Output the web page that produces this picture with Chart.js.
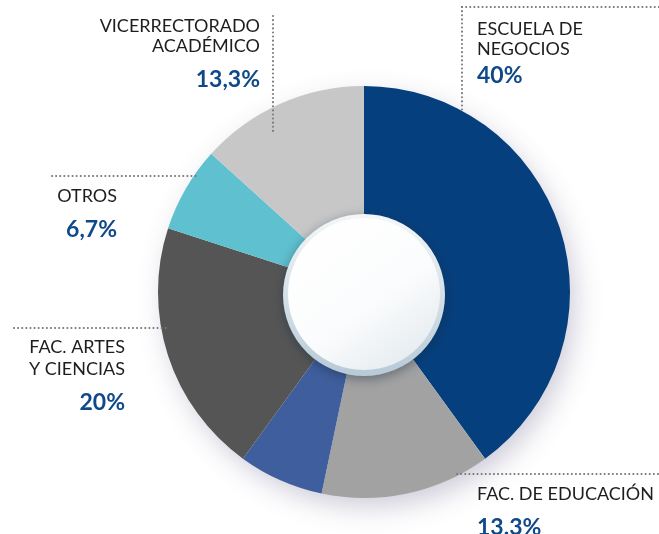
<!DOCTYPE html>
<html>
<head>
<meta charset="utf-8">
<script src="https://cdn.jsdelivr.net/npm/chart.js@4.4.1/dist/chart.umd.min.js"></script>
<style>
  html, body { margin: 0; padding: 0; background: #fff; }
  #wrap { width: 659px; height: 534px; position: relative; }
</style>
</head>
<body>
<div id="wrap"><canvas id="chart" width="659" height="534"></canvas></div>
<script>
// segments clockwise from 12 o'clock
const categories = ['ESCUELA DE NEGOCIOS', 'FAC. DE EDUCACIÓN', '', 'FAC. ARTES Y CIENCIAS', 'OTROS', 'VICERRECTORADO ACADÉMICO'];
const values = [40, 13.3, 6.7, 20, 6.7, 13.3];
const valueLabels = ['40%', '13.3%', '', '20%', '6,7%', '13,3%'];
const nameLines = [['ESCUELA DE', 'NEGOCIOS'], ['FAC. DE EDUCACIÓN'], [], ['FAC. ARTES', 'Y CIENCIAS'], ['OTROS'], ['VICERRECTORADO', 'ACADÉMICO']];
const colors = ['#063f7d', '#a2a2a2', '#3f5e9d', '#555555', '#5fc0d0', '#c7c7c7'];

// where each callout sits (layout only)
const callouts = [
  { align: 'left', x: 477, lines: [35, 55], pct: 83, dots: [[462, 7, 659, 7], [462, 7, 462, 112]] },
  { align: 'left', x: 477, lines: [500], pct: 535, dots: [[457, 474, 659, 474]] },
  null,
  { align: 'right', x: 125, lines: [353, 375], pct: 410, dots: [[14, 328, 168, 328]] },
  { align: 'right', x: 117, lines: [202], pct: 237, dots: [[52, 176, 197, 176]] },
  { align: 'right', x: 260, lines: [32, 52], pct: 87, dots: [[273, 16, 273, 133]] }
];

const decor = {
  id: 'decor',
  beforeDatasetsDraw(chart) {
    const arc = chart.getDatasetMeta(0).data[0];
    if (!arc) return;
    const c = chart.ctx;
    c.save();
    c.shadowColor = 'rgba(70,60,110,0.28)';
    c.shadowBlur = 28;
    c.shadowOffsetX = 6;
    c.shadowOffsetY = 10;
    c.fillStyle = '#ffffff';
    c.beginPath();
    c.arc(arc.x, arc.y, arc.outerRadius - 2, 0, Math.PI * 2);
    c.fill();
    c.restore();
  },
  afterDatasetsDraw(chart) {
    const meta = chart.getDatasetMeta(0);
    const arc = meta.data[0];
    const c = chart.ctx;
    const cx = arc.x, cy = arc.y + 3, r = 81;
    // centre disc
    c.save();
    c.shadowColor = 'rgba(20,40,60,0.45)';
    c.shadowBlur = 12;
    c.shadowOffsetY = 3;
    let g = c.createLinearGradient(cx, cy - r, cx, cy + r);
    g.addColorStop(0, '#f4f7f9');
    g.addColorStop(1, '#b7cad6');
    c.fillStyle = g;
    c.beginPath();
    c.arc(cx, cy, r, 0, Math.PI * 2);
    c.fill();
    c.restore();
    c.save();
    g = c.createLinearGradient(cx - 60, cy - 70, cx + 40, cy + 70);
    g.addColorStop(0, '#ffffff');
    g.addColorStop(0.6, '#fbfcfd');
    g.addColorStop(1, '#e6ecf0');
    c.fillStyle = g;
    c.beginPath();
    c.arc(cx, cy - 1, r - 5, 0, Math.PI * 2);
    c.fill();
    c.restore();

    // callouts
    c.save();
    callouts.forEach((co, i) => {
      if (!co) return;
      c.strokeStyle = '#777777';
      c.lineWidth = 2;
      c.lineCap = 'round';
      c.setLineDash([0.1, 4]);
      co.dots.forEach(d => {
        c.beginPath();
        c.moveTo(d[0], d[1]);
        c.lineTo(d[2], d[3]);
        c.stroke();
      });
      c.setLineDash([]);
      c.textAlign = co.align;
      c.textBaseline = 'alphabetic';
      c.fillStyle = '#1e1e1e';
      c.font = '18px Lato, "Open Sans", sans-serif';
      nameLines[i].forEach((t, k) => c.fillText(t, co.x, co.lines[k]));
      c.fillStyle = '#10498a';
      c.font = 'bold 23px Lato, "Open Sans", sans-serif';
      c.fillText(valueLabels[i], co.x, co.pct);
    });
    c.restore();
  }
};

new Chart(document.getElementById('chart'), {
  type: 'doughnut',
  data: {
    labels: categories,
    datasets: [{
      data: values,
      backgroundColor: colors,
      borderWidth: 0,
      hoverOffset: 0
    }]
  },
  options: {
    responsive: false,
    animation: false,
    cutout: '36%',
    layout: { padding: { left: 158, right: 89, top: 86, bottom: 36 } },
    plugins: {
      legend: { display: false },
      tooltip: { enabled: false }
    }
  },
  plugins: [decor]
});
</script>
</body>
</html>
